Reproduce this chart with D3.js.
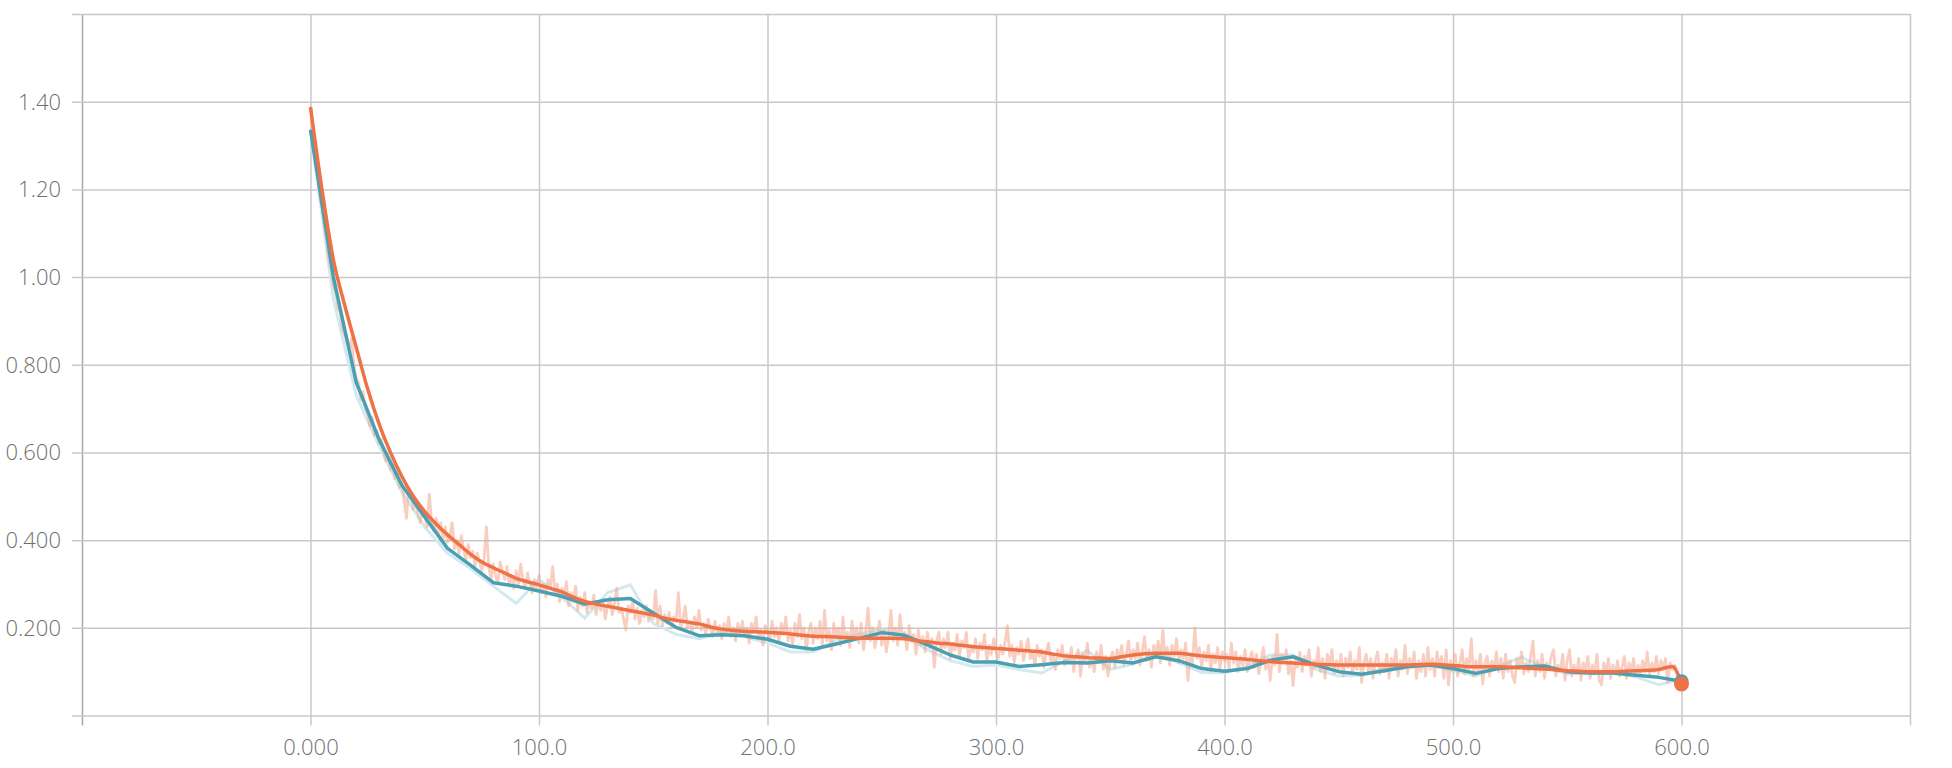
<!DOCTYPE html>
<html>
<head>
<meta charset="utf-8">
<script src="https://cdn.jsdelivr.net/npm/d3@7"></script>
<style>
  html, body { margin: 0; padding: 0; background: #fff; }
  .tick text { font-family: "Open Sans", Roboto, "Liberation Sans", sans-serif; font-weight: 300; font-size: 22px; fill: #707070; }
</style>
</head>
<body>
<div class="container"></div>
<script>
// Tick values and labels
const xGrid = [-100, 0, 100, 200, 300, 400, 500, 600, 700];
const xLabels = ["", "0.000", "100.0", "200.0", "300.0", "400.0", "500.0", "600.0", ""];
const yGrid = [0, 0.2, 0.4, 0.6, 0.8, 1.0, 1.2, 1.4, 1.6];
const yLabels = ["", "0.200", "0.400", "0.600", "0.800", "1.00", "1.20", "1.40", ""];

// Teal run: logged every 10 steps
const tealSteps = [0,10,20,30,40,50,60,70,80,90,100,110,120,130,140,150,160,170,180,190,200,
  210,220,230,240,250,260,270,280,290,300,310,320,330,340,350,360,370,380,390,400,
  410,420,430,440,450,460,470,480,490,500,510,520,530,540,550,560,570,580,590,600];
const tealRaw = [1.336,0.95,0.73,0.615,0.51,0.43,0.37,0.335,0.295,0.256,0.31,0.27,0.222,0.28,0.298,0.21,0.185,0.175,0.19,0.18,0.165,
  0.145,0.145,0.172,0.185,0.197,0.18,0.15,0.125,0.112,0.115,0.105,0.097,0.124,0.148,0.105,0.117,0.142,0.12,0.098,0.097,
  0.112,0.138,0.138,0.105,0.09,0.092,0.107,0.115,0.117,0.103,0.09,0.112,0.133,0.11,0.095,0.096,0.097,0.088,0.07,0.082];
const tealSmooth = [1.336,1.00,0.76,0.63,0.525,0.453,0.381,0.343,0.303,0.295,0.284,0.272,0.254,0.264,0.267,0.234,0.201,0.182,0.184,0.182,0.174,
  0.158,0.151,0.163,0.176,0.189,0.183,0.161,0.138,0.122,0.122,0.112,0.116,0.121,0.120,0.125,0.120,0.134,0.125,0.107,0.101,
  0.107,0.126,0.134,0.115,0.100,0.094,0.102,0.111,0.115,0.107,0.096,0.107,0.111,0.113,0.100,0.097,0.097,0.092,0.087,0.078];

// Orange run: logged every step (0..600)
const orangeRaw = [
  1.388,1.33,1.29,1.24,1.19,1.16,1.12,1.09,1.04,1.02,
  0.98,0.965,0.93,0.92,0.88,0.87,0.85,0.84,0.86,0.80,
  0.77,0.76,0.72,0.74,0.70,0.69,0.66,0.68,0.64,0.65,
  0.62,0.63,0.60,0.58,0.59,0.56,0.57,0.54,0.555,0.52,
  0.53,0.49,0.45,0.52,0.50,0.47,0.49,0.46,0.44,0.47,
  0.455,0.43,0.505,0.44,0.42,0.45,0.41,0.44,0.40,0.43,
  0.395,0.41,0.44,0.38,0.40,0.37,0.41,0.38,0.355,0.39,
  0.36,0.375,0.34,0.37,0.35,0.33,0.36,0.43,0.34,0.31,
  0.345,0.32,0.30,0.35,0.33,0.31,0.34,0.30,0.32,0.29,
  0.33,0.30,0.345,0.31,0.29,0.325,0.30,0.28,0.31,0.29,
  0.32,0.28,0.30,0.27,0.31,0.29,0.34,0.28,0.30,0.26,
  0.29,0.27,0.305,0.25,0.28,0.26,0.295,0.24,0.27,0.25,
  0.28,0.235,0.26,0.245,0.275,0.23,0.26,0.24,0.265,0.22,
  0.25,0.27,0.23,0.255,0.29,0.235,0.245,0.22,0.195,0.25,
  0.235,0.26,0.22,0.245,0.21,0.24,0.225,0.25,0.215,0.235,
  0.22,0.285,0.21,0.25,0.205,0.23,0.21,0.235,0.20,0.225,
  0.215,0.28,0.20,0.22,0.25,0.20,0.215,0.19,0.225,0.20,
  0.24,0.195,0.21,0.185,0.22,0.20,0.18,0.215,0.19,0.205,
  0.175,0.21,0.19,0.225,0.18,0.20,0.17,0.21,0.185,0.215,
  0.18,0.20,0.165,0.21,0.19,0.225,0.175,0.195,0.16,0.205,
  0.19,0.17,0.215,0.18,0.20,0.165,0.21,0.185,0.225,0.17,
  0.195,0.16,0.21,0.18,0.23,0.175,0.20,0.15,0.19,0.21,
  0.165,0.20,0.175,0.215,0.16,0.24,0.17,0.195,0.15,0.21,
  0.18,0.20,0.16,0.225,0.17,0.19,0.155,0.215,0.175,0.20,
  0.165,0.21,0.15,0.19,0.245,0.17,0.20,0.155,0.185,0.215,
  0.16,0.195,0.145,0.18,0.24,0.17,0.20,0.16,0.23,0.175,
  0.19,0.15,0.205,0.17,0.185,0.14,0.195,0.16,0.18,0.145,
  0.19,0.155,0.175,0.11,0.17,0.19,0.14,0.175,0.155,0.19,
  0.13,0.165,0.15,0.185,0.135,0.17,0.155,0.19,0.125,0.16,
  0.145,0.175,0.13,0.165,0.15,0.185,0.12,0.16,0.14,0.175,
  0.145,0.13,0.16,0.14,0.17,0.205,0.135,0.16,0.12,0.155,
  0.14,0.17,0.125,0.15,0.175,0.13,0.145,0.115,0.16,0.135,
  0.15,0.11,0.145,0.165,0.12,0.14,0.105,0.15,0.13,0.16,
  0.115,0.14,0.125,0.155,0.10,0.135,0.15,0.09,0.14,0.12,
  0.165,0.11,0.13,0.10,0.145,0.12,0.16,0.105,0.135,0.09,
  0.125,0.145,0.11,0.15,0.13,0.16,0.115,0.14,0.17,0.12,
  0.15,0.13,0.165,0.115,0.145,0.18,0.125,0.15,0.11,0.16,
  0.14,0.17,0.12,0.195,0.13,0.155,0.115,0.16,0.135,0.175,
  0.12,0.15,0.13,0.165,0.08,0.14,0.12,0.20,0.13,0.155,
  0.11,0.145,0.125,0.16,0.10,0.14,0.12,0.155,0.105,0.145,
  0.125,0.14,0.105,0.165,0.12,0.145,0.10,0.135,0.115,0.15,
  0.10,0.13,0.145,0.11,0.14,0.095,0.125,0.155,0.105,0.13,
  0.08,0.135,0.115,0.185,0.10,0.14,0.12,0.15,0.095,0.125,
  0.068,0.13,0.11,0.145,0.10,0.135,0.115,0.15,0.09,0.125,
  0.11,0.155,0.10,0.13,0.085,0.14,0.115,0.15,0.095,0.125,
  0.105,0.14,0.09,0.13,0.11,0.145,0.095,0.125,0.105,0.155,
  0.075,0.12,0.14,0.10,0.13,0.085,0.125,0.145,0.095,0.12,
  0.10,0.14,0.085,0.13,0.11,0.15,0.09,0.125,0.105,0.16,
  0.095,0.13,0.11,0.145,0.085,0.125,0.10,0.14,0.09,0.155,
  0.105,0.13,0.09,0.145,0.11,0.135,0.085,0.15,0.07,0.125,
  0.10,0.14,0.09,0.12,0.15,0.095,0.13,0.105,0.175,0.09,
  0.125,0.10,0.14,0.072,0.12,0.135,0.09,0.125,0.105,0.145,
  0.10,0.13,0.085,0.14,0.10,0.125,0.09,0.075,0.13,0.11,
  0.145,0.095,0.12,0.10,0.135,0.17,0.09,0.125,0.10,0.14,
  0.085,0.12,0.105,0.135,0.15,0.09,0.115,0.10,0.14,0.08,
  0.125,0.15,0.09,0.115,0.095,0.13,0.08,0.12,0.10,0.135,
  0.085,0.115,0.095,0.14,0.08,0.07,0.12,0.10,0.13,0.085,
  0.115,0.095,0.125,0.09,0.11,0.135,0.085,0.12,0.10,0.13,
  0.09,0.115,0.095,0.125,0.10,0.145,0.09,0.12,0.10,0.135,
  0.095,0.125,0.105,0.13,0.075,0.12,0.105,0.115,0.10,0.09,
  0.06];
const orangeSmoothSteps = [0,5,10,15,20,25,30,35,40,45,50,55,60,65,70,75,80,85,90,95,100,
  105,110,115,120,125,130,135,140,145,150,155,160,165,170,175,180,185,190,195,200,
  205,210,215,220,225,230,235,240,245,250,255,260,265,270,275,280,285,290,295,300,
  305,310,315,320,325,330,335,340,345,350,355,360,365,370,375,380,385,390,395,400,
  405,410,415,420,425,430,435,440,445,450,455,460,465,470,475,480,485,490,495,500,
  505,510,515,520,525,530,535,540,545,550,555,560,565,570,575,580,585,590,596,600];
const orangeSmooth = [1.388,1.20,1.04,0.935,0.84,0.745,0.665,0.60,0.545,0.50,0.465,0.437,0.412,0.39,0.368,0.35,0.337,0.325,0.313,0.305,0.298,
  0.29,0.282,0.27,0.26,0.254,0.249,0.244,0.239,0.234,0.229,0.222,0.217,0.213,0.209,0.202,0.197,0.194,0.192,0.191,0.19,
  0.188,0.186,0.183,0.181,0.18,0.179,0.178,0.176,0.176,0.176,0.176,0.175,0.171,0.168,0.165,0.163,0.16,0.157,0.155,0.153,
  0.151,0.149,0.147,0.145,0.14,0.136,0.134,0.132,0.131,0.13,0.134,0.138,0.141,0.142,0.142,0.142,0.139,0.136,0.134,0.132,
  0.13,0.128,0.125,0.123,0.121,0.12,0.118,0.117,0.116,0.115,0.115,0.115,0.115,0.115,0.115,0.115,0.116,0.117,0.116,0.114,
  0.112,0.111,0.111,0.111,0.11,0.109,0.107,0.106,0.104,0.102,0.101,0.10,0.10,0.10,0.101,0.102,0.103,0.105,0.112,0.072];

// Dimensions
const w = 1952;
const h = 768;
const padLeft = 82, padRight = 1910, padTop = 14, padBottom = 715.5;

// Scales
const xScale = d3.scaleLinear().domain([-100, 700]).range([padLeft, padRight]);
const yScale = d3.scaleLinear().domain([0, 1.6]).range([padBottom, padTop]);

const svg = d3.select(".container")
  .append("svg")
  .attr("width", w)
  .attr("height", h);

// Grid + axes
const xAxis = d3.axisBottom(xScale)
  .tickValues(xGrid)
  .tickSize(-(padBottom - padTop))
  .tickFormat((d, i) => xLabels[i]);
const gx = svg.append("g")
  .attr("transform", `translate(0,${padBottom})`)
  .call(xAxis);
gx.select(".domain").remove();
gx.selectAll(".tick line").attr("y1", 10).attr("stroke", "#c8c8c8").attr("stroke-width", 1.5);
gx.selectAll(".tick text").attr("y", 24).attr("dy", "0.71em");

const yAxis = d3.axisLeft(yScale)
  .tickValues(yGrid)
  .tickSize(-(padRight - padLeft))
  .tickFormat((d, i) => yLabels[i]);
const gy = svg.append("g")
  .attr("transform", `translate(${padLeft},0)`)
  .call(yAxis);
gy.select(".domain").remove();
gy.selectAll(".tick line").attr("x1", -10).attr("stroke", "#c8c8c8").attr("stroke-width", 1.5);
gy.selectAll(".tick text").attr("x", -21).attr("dy", "0.34em");

// darker left axis line
gx.selectAll(".tick line").filter(d => d === -100).attr("stroke", "#a8a8a8");

// Lines
const line = d3.line().x(d => xScale(d[0])).y(d => yScale(d[1]));
const smoothLine = d3.line().x(d => xScale(d[0])).y(d => yScale(d[1])).curve(d3.curveMonotoneX);

const tealRawPts = tealSteps.map((s, i) => [s, tealRaw[i]]);
const tealSmoothPts = tealSteps.map((s, i) => [s, tealSmooth[i]]);
const orangeRawPts = orangeRaw.map((v, i) => [i, v]);
const orangeSmoothPts = orangeSmoothSteps.map((s, i) => [s, orangeSmooth[i]]);

svg.append("path").datum(tealRawPts)
  .attr("d", line).attr("fill", "none")
  .attr("stroke", "#d2eaef").attr("stroke-width", 3);

svg.append("path").datum(orangeRawPts)
  .attr("d", line).attr("fill", "none")
  .attr("stroke", "#f4a58c").attr("stroke-opacity", 0.55).attr("stroke-width", 2.8)
  .attr("stroke-linejoin", "round");

svg.append("path").datum(tealSmoothPts)
  .attr("d", line).attr("fill", "none")
  .attr("stroke", "#4aa0b3").attr("stroke-width", 3.5)
  .attr("stroke-linejoin", "round");

svg.append("path").datum(orangeSmoothPts)
  .attr("d", smoothLine).attr("fill", "none")
  .attr("stroke", "#ef7247").attr("stroke-width", 3.5)
  .attr("stroke-linejoin", "round");

// End markers
svg.append("circle")
  .attr("cx", xScale(600)).attr("cy", yScale(tealSmooth[tealSmooth.length - 1]))
  .attr("r", 7).attr("fill", "#4aa0b3");
svg.append("circle")
  .attr("cx", xScale(600)).attr("cy", yScale(orangeSmooth[orangeSmooth.length - 1]))
  .attr("r", 7.5).attr("fill", "#ef7247");
</script>
</body>
</html>
